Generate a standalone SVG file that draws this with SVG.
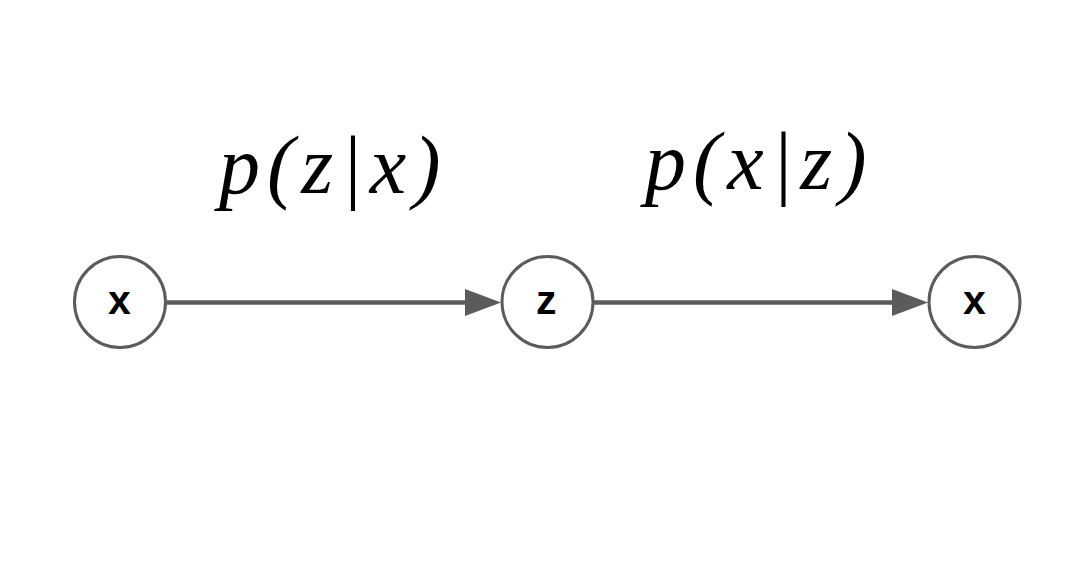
<svg xmlns="http://www.w3.org/2000/svg" width="1078" height="561" viewBox="0 0 1078 561">
  <defs>
    <marker id="arrow" viewBox="0 0 36 27" refX="1" refY="13.5" markerWidth="36" markerHeight="27" markerUnits="userSpaceOnUse" orient="auto">
      <path d="M0,0 L36,13.5 L0,27 Z" fill="#5b5b5b"/>
    </marker>
  </defs>
  <rect width="1078" height="561" fill="#ffffff"/>
  <g id="connectors" stroke="#5b5b5b" stroke-width="4.5" fill="none">
    <line x1="167" y1="302.5" x2="466" y2="302.5" marker-end="url(#arrow)"/>
    <line x1="594" y1="302.5" x2="893" y2="302.5" marker-end="url(#arrow)"/>
  </g>
  <g id="label-encoder">
    <text x="219" y="193" font-family="Liberation Serif" font-size="82" font-style="italic" letter-spacing="7">p(z|x)</text>
  </g>
  <g id="label-decoder">
    <text x="645" y="189" font-family="Liberation Serif" font-size="82" font-style="italic" letter-spacing="7">p(x|z)</text>
  </g>
  <g id="node-x1">
    <circle cx="120" cy="302" r="45.5" fill="#ffffff" stroke="#5b5b5b" stroke-width="3"/>
    <text x="108" y="314" font-family="Liberation Sans" font-size="41" font-weight="bold">x</text>
  </g>
  <g id="node-z">
    <circle cx="547.5" cy="302" r="45.5" fill="#ffffff" stroke="#5b5b5b" stroke-width="3"/>
    <text x="536" y="314" font-family="Liberation Sans" font-size="41" font-weight="bold">z</text>
  </g>
  <g id="node-x2">
    <circle cx="974.5" cy="302" r="45.5" fill="#ffffff" stroke="#5b5b5b" stroke-width="3"/>
    <text x="963" y="314" font-family="Liberation Sans" font-size="41" font-weight="bold">x</text>
  </g>
</svg>
